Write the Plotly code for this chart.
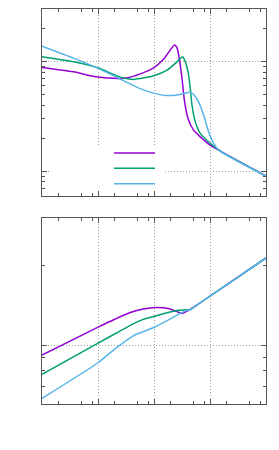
import math
import plotly.graph_objects as go

# ---------------- data ----------------
series_names = ["", "", ""]
colors = ["#9400d3", "#009e73", "#56b4e9"]

# top panel
top1_x = [0.01, 0.0366, 0.0984, 0.25, 0.338, 0.569, 0.984, 1.48, 2.33, 2.58, 2.86, 3.16, 3.52, 4.05, 5.09, 6.71, 10.1, 15.3, 23.0, 100]
top1_y = [0.882, 0.804, 0.720, 0.701, 0.710, 0.771, 0.875, 1.049, 1.41, 1.33, 1.03, 0.701, 0.429, 0.303, 0.237, 0.206, 0.173, 0.153, 0.136, 0.0906]

top2_x = [0.01, 0.0366, 0.0984, 0.25, 0.426, 0.569, 0.984, 1.71, 2.58, 3.24, 3.62, 4.05, 4.45, 4.77, 5.47, 6.71, 10.1, 15.3, 100]
top2_y = [1.101, 0.992, 0.875, 0.720, 0.686, 0.698, 0.740, 0.834, 0.992, 1.101, 0.992, 0.804, 0.568, 0.401, 0.282, 0.2216, 0.180, 0.153, 0.0906]

top3_x = [0.01, 0.0366, 0.0984, 0.25, 0.569, 0.984, 1.71, 2.95, 4.45, 5.09, 6.25, 7.69, 9.44, 11.6, 14.3, 100]
top3_y = [1.377, 1.072, 0.869, 0.691, 0.566, 0.515, 0.489, 0.501, 0.523, 0.501, 0.429, 0.325, 0.229, 0.180, 0.156, 0.0906]

# bottom panel
bot1_x = [0.01, 0.0984, 0.204, 0.378, 0.644, 1.099, 1.80, 2.58, 3.16, 4.45, 6.71, 100]
bot1_y = [0.917, 1.166, 1.254, 1.327, 1.368, 1.386, 1.374, 1.336, 1.316, 1.362, 1.443, 2.127]

bot2_x = [0.01, 0.0984, 0.25, 0.433, 0.644, 0.984, 1.59, 2.58, 3.38, 4.45, 6.71, 100]
bot2_y = [0.776, 1.015, 1.131, 1.205, 1.249, 1.280, 1.317, 1.348, 1.356, 1.362, 1.443, 2.127]

bot3_x = [0.01, 0.0984, 0.204, 0.433, 0.984, 2.24, 3.38, 4.45, 6.71, 100]
bot3_y = [0.630, 0.856, 0.970, 1.086, 1.164, 1.274, 1.336, 1.362, 1.443, 2.127]

# ticks
x_major = [0.01, 0.1, 1, 10, 100]
x_minor = [m * 10 ** k for k in (-2, -1, 0, 1) for m in (2, 5, 8)]
top_y_major = [0.1, 1]
top_y_minor = [m * 10 ** k for k in (-2, -1, 0) for m in range(2, 10)]
bot_y_major = [1]
bot_y_minor = [0.6, 0.7, 0.8, 0.9, 2, 3]

# ---------------- figure ----------------
fig = go.Figure()
legend_ids = ["legend", "legend2", "legend3"]
tops = [(top1_x, top1_y), (top2_x, top2_y), (top3_x, top3_y)]
bots = [(bot1_x, bot1_y), (bot2_x, bot2_y), (bot3_x, bot3_y)]
for i, (xs, ys) in enumerate(tops):
    fig.add_trace(go.Scatter(x=xs, y=ys, mode="lines", name=series_names[i],
                             line=dict(color=colors[i], width=1.5, shape="spline", smoothing=0.6),
                             xaxis="x", yaxis="y", showlegend=True, legend=legend_ids[i]))
for i, (xs, ys) in enumerate(bots):
    fig.add_trace(go.Scatter(x=xs, y=ys, mode="lines", name=series_names[i],
                             line=dict(color=colors[i], width=1.5, shape="spline", smoothing=0.6),
                             xaxis="x2", yaxis="y2", showlegend=False))

frame = "#555555"
grid = "#a0a0a0"


def axis(kind_range, major, minor, domain=None, anchor=None):
    d = dict(type="log", range=kind_range, tickmode="array", tickvals=major,
             showticklabels=False, ticks="inside", ticklen=5, tickwidth=1, tickcolor=frame,
             showline=True, linecolor=frame, linewidth=1, mirror="allticks",
             showgrid=True, gridcolor=grid, gridwidth=1, griddash="1px,2px", zeroline=False,
             automargin=False,
             minor=dict(tickmode="array", tickvals=minor, ticks="inside", ticklen=3,
                        tickcolor=frame, tickwidth=1, showgrid=False))
    if domain is not None:
        d["domain"] = domain
    if anchor is not None:
        d["anchor"] = anchor
    return d


def legend_at(y):
    return dict(x=0.299, y=y, xref="paper", yref="paper", xanchor="left", yanchor="middle",
                bgcolor="rgba(0,0,0,0)", borderwidth=0, itemwidth=41,
                font=dict(family="DejaVu Sans", size=10))


fig.update_layout(
    width=279, height=450,
    margin=dict(l=42, r=13, t=9, b=46, autoexpand=False),
    paper_bgcolor="white", plot_bgcolor="white",
    xaxis=axis([-2, 2], x_major, x_minor, anchor="y"),
    yaxis=axis([math.log10(0.06), math.log10(3)], top_y_major, top_y_minor, domain=[0.5273, 1], anchor="x"),
    xaxis2=axis([-2, 2], x_major, x_minor, anchor="y2"),
    yaxis2=axis([math.log10(0.6), math.log10(3)], bot_y_major, bot_y_minor, domain=[0, 0.4701], anchor="x2"),
    showlegend=True,
    legend=legend_at(0.6354),
    legend2=legend_at(0.5967),
    legend3=legend_at(0.5577),
    shapes=[dict(type="rect", xref="x domain", yref="y domain", x0=0.0415, x1=0.55, y0=0.03, y1=0.269,
                 fillcolor="white", line=dict(width=0))],
)

fig.write_html("out.html", config={"displayModeBar": False, "staticPlot": True},
               post_script="document.body.style.margin='0px';document.body.style.overflow='hidden';")
